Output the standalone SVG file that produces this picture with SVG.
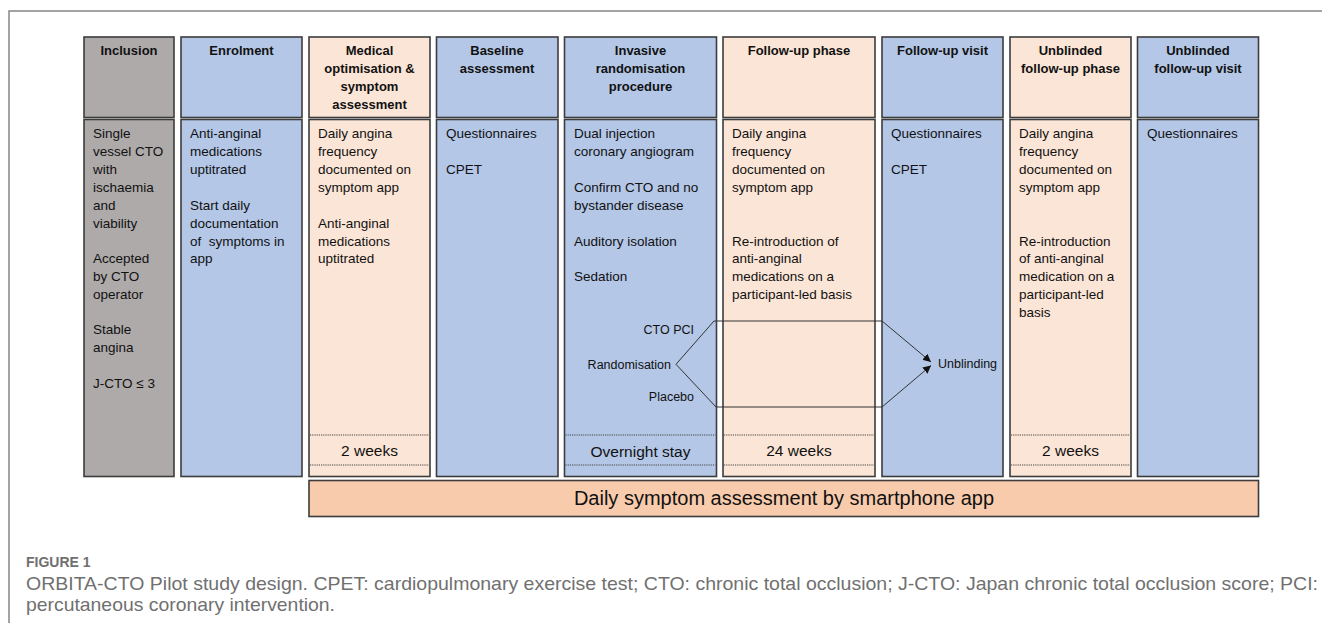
<svg xmlns="http://www.w3.org/2000/svg" width="1322" height="623" viewBox="0 0 1322 623">
<style>
.hd{fill:#f0f0f0}
.box{stroke:#3c3c3c;stroke-width:1.6}
.gray{fill:#aeaaaa}
.blue{fill:#b4c7e7}
.peach{fill:#fbe5d6}
.bar{fill:#f8cbad;stroke:#3c3c3c;stroke-width:1.6}
.h{font-family:"Liberation Sans",Arial,sans-serif;font-weight:bold;font-size:13px;fill:#111;text-anchor:middle}
.t{font-family:"Liberation Sans",Arial,sans-serif;font-size:13.5px;fill:#111;white-space:pre}
.f{font-family:"Liberation Sans",Arial,sans-serif;font-size:15.5px;fill:#111;text-anchor:middle}
.s{font-family:"Liberation Sans",Arial,sans-serif;font-size:12.5px;fill:#111}
.dot{stroke:#444;stroke-width:1;stroke-dasharray:1.2 1}
.con{fill:none;stroke:#333;stroke-width:1}
.cap{font-family:"Liberation Sans",Arial,sans-serif;fill:#707070}
</style>
<defs>
<marker id="ah" markerUnits="userSpaceOnUse" markerWidth="9" markerHeight="8" refX="8" refY="4" orient="auto">
<path d="M0,0 L8,4 L0,8 z" fill="#111"/>
</marker>
</defs>
<rect width="1322" height="623" fill="#fff"/>
<path d="M9,623 V11 H1322" fill="none" stroke="#858585" stroke-width="1.5"/>

<g id="inclusion">
<rect class="box gray" x="84" y="37" width="90" height="80.5"/>
<rect class="box gray" x="84" y="119.5" width="90" height="357"/>
<text class="h" x="129" y="55">Inclusion</text>
<text class="t" x="93" y="138">Single</text>
<text class="t" x="93" y="156">vessel CTO</text>
<text class="t" x="93" y="174">with</text>
<text class="t" x="93" y="192">ischaemia</text>
<text class="t" x="93" y="210">and</text>
<text class="t" x="93" y="228">viability</text>
<text class="t" x="93" y="263">Accepted</text>
<text class="t" x="93" y="281">by CTO</text>
<text class="t" x="93" y="299">operator</text>
<text class="t" x="93" y="334">Stable</text>
<text class="t" x="93" y="352">angina</text>
<text class="t" x="93" y="388">J-CTO ≤ 3</text>
</g>

<g id="enrolment">
<rect class="box blue" x="181" y="37" width="121" height="80.5"/>
<rect class="box blue" x="181" y="119.5" width="121" height="357"/>
<text class="h" x="241.5" y="55">Enrolment</text>
<text class="t" x="190" y="138">Anti-anginal</text>
<text class="t" x="190" y="156">medications</text>
<text class="t" x="190" y="174">uptitrated</text>
<text class="t" x="190" y="210">Start daily</text>
<text class="t" x="190" y="228">documentation</text>
<text class="t" x="190" y="246">of  symptoms in</text>
<text class="t" x="190" y="263">app</text>
</g>

<g id="medical">
<rect class="box peach" x="309" y="37" width="121" height="80.5"/>
<rect class="box peach" x="309" y="119.5" width="121" height="357"/>
<line class="dot" x1="310" y1="435" x2="429" y2="435"/>
<line class="dot" x1="310" y1="465" x2="429" y2="465"/>
<text class="h" x="369.5" y="55">Medical</text>
<text class="h" x="369.5" y="73">optimisation &amp;</text>
<text class="h" x="369.5" y="91">symptom</text>
<text class="h" x="369.5" y="109">assessment</text>
<text class="t" x="318" y="138">Daily angina</text>
<text class="t" x="318" y="156">frequency</text>
<text class="t" x="318" y="174">documented on</text>
<text class="t" x="318" y="192">symptom app</text>
<text class="t" x="318" y="228">Anti-anginal</text>
<text class="t" x="318" y="246">medications</text>
<text class="t" x="318" y="263">uptitrated</text>
<text class="f" x="369.5" y="456">2 weeks</text>
</g>

<g id="baseline">
<rect class="box blue" x="436.5" y="37" width="121.5" height="80.5"/>
<rect class="box blue" x="436.5" y="119.5" width="121.5" height="357"/>
<text class="h" x="497" y="55">Baseline</text>
<text class="h" x="497" y="73">assessment</text>
<text class="t" x="446" y="138">Questionnaires</text>
<text class="t" x="446" y="174">CPET</text>
</g>

<g id="invasive">
<rect class="box blue" x="564.5" y="37" width="152" height="80.5"/>
<rect class="box blue" x="564.5" y="119.5" width="152" height="357"/>
<line class="dot" x1="565.5" y1="435" x2="715.5" y2="435"/>
<line class="dot" x1="565.5" y1="465" x2="715.5" y2="465"/>
<text class="h" x="640.5" y="55">Invasive</text>
<text class="h" x="640.5" y="73">randomisation</text>
<text class="h" x="640.5" y="91">procedure</text>
<text class="t" x="574" y="138">Dual injection</text>
<text class="t" x="574" y="156">coronary angiogram</text>
<text class="t" x="574" y="192">Confirm CTO and no</text>
<text class="t" x="574" y="210">bystander disease</text>
<text class="t" x="574" y="246">Auditory isolation</text>
<text class="t" x="574" y="281">Sedation</text>
<text class="s" x="694" y="333.5" text-anchor="end">CTO PCI</text>
<text class="s" x="671" y="368.5" text-anchor="end">Randomisation</text>
<text class="s" x="694" y="400.5" text-anchor="end">Placebo</text>
<text class="f" x="640.5" y="456.5">Overnight stay</text>
</g>

<g id="followup-phase">
<rect class="box peach" x="723" y="37" width="152" height="80.5"/>
<rect class="box peach" x="723" y="119.5" width="152" height="357"/>
<line class="dot" x1="724" y1="435" x2="874" y2="435"/>
<line class="dot" x1="724" y1="465" x2="874" y2="465"/>
<text class="h" x="799" y="55">Follow-up phase</text>
<text class="t" x="732" y="138">Daily angina</text>
<text class="t" x="732" y="156">frequency</text>
<text class="t" x="732" y="174">documented on</text>
<text class="t" x="732" y="192">symptom app</text>
<text class="t" x="732" y="246">Re-introduction of</text>
<text class="t" x="732" y="263">anti-anginal</text>
<text class="t" x="732" y="281">medications on a</text>
<text class="t" x="732" y="299">participant-led basis</text>
<text class="f" x="799" y="456">24 weeks</text>
</g>

<g id="followup-visit">
<rect class="box blue" x="882" y="37" width="121" height="80.5"/>
<rect class="box blue" x="882" y="119.5" width="121" height="357"/>
<text class="h" x="942.5" y="55">Follow-up visit</text>
<text class="t" x="891" y="138">Questionnaires</text>
<text class="t" x="891" y="174">CPET</text>
<text class="s" x="938" y="367.5">Unblinding</text>
</g>

<g id="unblinded-phase">
<rect class="box peach" x="1010" y="37" width="121" height="80.5"/>
<rect class="box peach" x="1010" y="119.5" width="121" height="357"/>
<line class="dot" x1="1011" y1="435" x2="1130" y2="435"/>
<line class="dot" x1="1011" y1="465" x2="1130" y2="465"/>
<text class="h" x="1070.5" y="55">Unblinded</text>
<text class="h" x="1070.5" y="73">follow-up phase</text>
<text class="t" x="1019" y="138">Daily angina</text>
<text class="t" x="1019" y="156">frequency</text>
<text class="t" x="1019" y="174">documented on</text>
<text class="t" x="1019" y="192">symptom app</text>
<text class="t" x="1019" y="246">Re-introduction</text>
<text class="t" x="1019" y="263">of anti-anginal</text>
<text class="t" x="1019" y="281">medication on a</text>
<text class="t" x="1019" y="299">participant-led</text>
<text class="t" x="1019" y="317">basis</text>
<text class="f" x="1070.5" y="456">2 weeks</text>
</g>

<g id="unblinded-visit">
<rect class="box blue" x="1137.5" y="37" width="121" height="80.5"/>
<rect class="box blue" x="1137.5" y="119.5" width="121" height="357"/>
<text class="h" x="1198" y="55">Unblinded</text>
<text class="h" x="1198" y="73">follow-up visit</text>
<text class="t" x="1147" y="138">Questionnaires</text>
</g>

<g id="app-bar">
<rect class="bar" x="309" y="480.5" width="949.5" height="36"/>
<text x="784" y="505" font-family="Liberation Sans, Arial, sans-serif" font-size="20" fill="#111" text-anchor="middle">Daily symptom assessment by smartphone app</text>
</g>

<g id="connectors">
<polyline class="con" points="676,364.3 714,321 882,321 931,362" marker-end="url(#ah)"/>
<polyline class="con" points="676,364.3 716,407 882,407 931,365.5" marker-end="url(#ah)"/>
</g>

<g id="caption">
<text class="cap" x="26" y="567" font-size="14" font-weight="bold">FIGURE 1</text>
<text class="cap" x="26" y="590" font-size="18.5" textLength="1292" lengthAdjust="spacingAndGlyphs">ORBITA-CTO Pilot study design. CPET: cardiopulmonary exercise test; CTO: chronic total occlusion; J-CTO: Japan chronic total occlusion score; PCI:</text>
<text class="cap" x="26" y="611" font-size="18.5" textLength="309" lengthAdjust="spacingAndGlyphs">percutaneous coronary intervention.</text>
</g>
</svg>
